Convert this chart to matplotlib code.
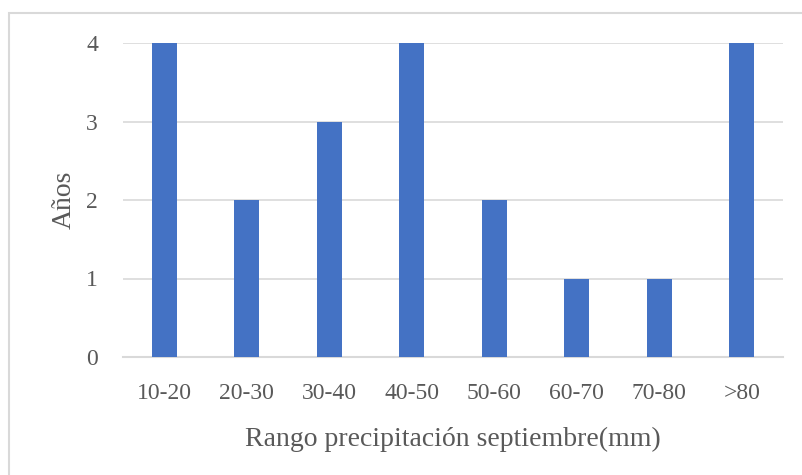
import matplotlib
matplotlib.use("Agg")
import matplotlib.pyplot as plt
from matplotlib.patches import Rectangle

categories = ["10-20", "20-30", "30-40", "40-50", "50-60", "60-70", "70-80", ">80"]
years = [4, 2, 3, 4, 2, 1, 1, 4]
y_ticks = [0, 1, 2, 3, 4]

plt.rcParams["font.family"] = ["Liberation Serif", "DejaVu Serif"]
text_color = "#595959"
grid_color = "#D9D9D9"
bar_color = "#4472C4"

fig = plt.figure(figsize=(8.02, 4.75), dpi=100)
W, H = 802, 475

# Chart area border
fig.patches.append(Rectangle((9 / W, -0.05), 1.2, (H - 13.5) / H + 0.05,
                             transform=fig.transFigure, fill=False,
                             edgecolor=grid_color, linewidth=1.5))

left, right = 123, 783
top, bottom = 43, 357
ax = fig.add_axes([left / W, 1 - bottom / H, (right - left) / W, (bottom - top) / H])

x = range(len(categories))
ax.bar(x, years, width=0.3, color=bar_color, zorder=3)
ax.set_xlim(-0.5, len(categories) - 0.5)
ax.set_ylim(0, 4)
ax.set_yticks(y_ticks)
ax.set_xticks(list(x))
ax.set_xticklabels(categories)
ax.grid(axis="y", color=grid_color, linewidth=1.2, zorder=0)
for s in ["top", "right", "left"]:
    ax.spines[s].set_visible(False)
ax.spines["bottom"].set_color(grid_color)
ax.spines["bottom"].set_linewidth(1.5)
ax.tick_params(axis="both", length=0, labelsize=17, colors=text_color)
ax.tick_params(axis="x", pad=19)
ax.tick_params(axis="y", pad=18)
ax.set_ylabel("Años", fontsize=20, color=text_color, labelpad=7)
ax.set_xlabel("Rango precipitación septiembre(mm)", fontsize=20, color=text_color, labelpad=16)

fig.savefig("out.png", dpi=100)
